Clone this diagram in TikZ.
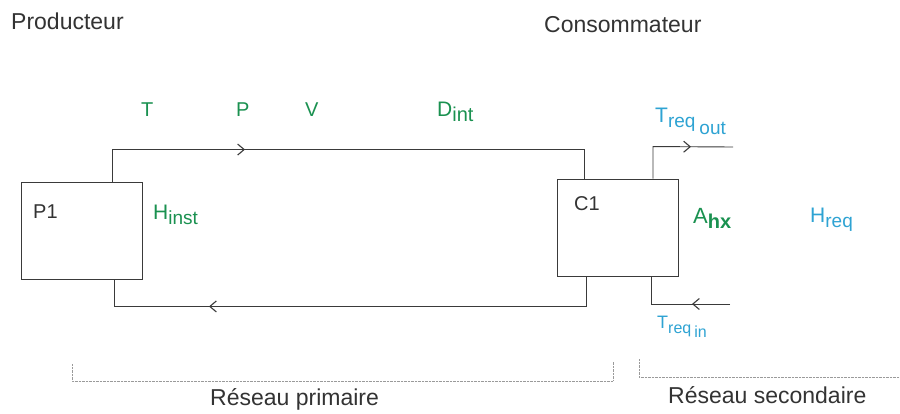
\documentclass[tikz,border=0pt]{standalone}
\usepackage{fontspec}
\setmainfont{Liberation Sans}
\usetikzlibrary{arrows.meta,decorations.markings}
\definecolor{ink}{HTML}{333333}
\definecolor{linec}{HTML}{3A3A3A}
\definecolor{grn}{HTML}{1A9150}
\definecolor{blu}{HTML}{2EA3D3}
\definecolor{dotc}{HTML}{9A9A9A}
\newcommand\fsz[1]{\fontsize{#1}{#1}\selectfont}
\begin{document}
\begin{tikzpicture}[x=1pt,y=-1pt,
 box/.style={draw=linec,line width=0.9pt,minimum width=121pt,minimum height=97pt,inner sep=0pt},
 pipe/.style={draw=linec,line width=0.9pt},
 lbl/.style={anchor=base west,inner sep=0pt,text=ink,font=\fsz{23}},
 boxlbl/.style={anchor=base west,inner sep=0pt,text=ink,font=\fsz{20}},
 glbl/.style={anchor=base west,inner sep=0pt,text=grn,font=\fsz{21}},
 blbl/.style={anchor=base west,inner sep=0pt,text=blu,font=\fsz{21}},
 bracket/.style={draw=dotc,line width=0.7pt,dash pattern=on 0.7pt off 0.7pt},
 midarrow/.style={decoration={markings,mark=at position #1 with {\arrow[linec]{Straight Barb[length=6.5pt,width=11pt,line width=1.1pt]}}},postaction={decorate}}
]
\useasboundingbox[fill=white] (0,0) rectangle (900,414);

% boxes
\node[box] (P1box) at (81.5,230.5) {};
\node[box] (C1box) at (617.5,227.5) {};
\node[boxlbl] (P1t) at (33,219) {P1};
\node[boxlbl] (C1t) at (574,211) {C1};

% secondary free ends
\coordinate (sout) at (733,147);
\coordinate (sin) at (730,304);

% primary network
\draw[pipe,midarrow=165pt] ([xshift=30.5pt]P1box.north) -- ++(0,-32) -| ([xshift=-33.5pt]C1box.north);
\draw[pipe,midarrow=407pt] ([xshift=-31.5pt]C1box.south) -- ++(0,30) -| ([xshift=32.5pt]P1box.south);

% secondary network
\draw[pipe,midarrow=70pt] ([xshift=35.5pt]C1box.north) -- ++(0,-32) -- (sout);
\draw[pipe,midarrow=38pt] (sin) -| ([xshift=33.5pt]C1box.south);

% titles
\node[lbl] (prod) at (11,30) {Producteur};
\node[lbl] (cons) at (544,33) {Consommateur};

% green variables
\node[glbl,font=\fsz{20}] (lT) at (141,117) {T};
\node[glbl,font=\fsz{20}] (lP) at (236,117) {P};
\node[glbl,font=\fsz{20}] (lV) at (305,117) {V};
\node[glbl] (lD) at (437,117) {D\raisebox{-5pt}{\fsz{20}int}};
\node[glbl] (lH) at (153,220) {H\raisebox{-5pt}{\fsz{19}inst}};
\node[glbl,font=\fsz{22}] (lA) at (693,224) {A\raisebox{-5pt}{\fsz{20}\bfseries hx}};

% blue variables
\node[blbl] (lHr) at (810,223) {H\raisebox{-5pt}{\fsz{19}req}};
\node[blbl] (lTo) at (655,123) {T\raisebox{-5pt}{\fsz{19}req}\hspace{4pt}\raisebox{-12pt}{\fsz{19}out}};
\node[blbl,font=\fsz{18}] (lTi) at (657,328) {T\raisebox{-5pt}{\fsz{16}req}\hspace{3pt}\raisebox{-9pt}{\fsz{16}in}};

% brackets
\coordinate (b1a) at (72,364);
\coordinate (b1b) at (613,381);
\coordinate (b1c) at (613,361);
\draw[bracket] (b1a) |- (b1b) -- (b1c);
\coordinate (b2a) at (639,359);
\coordinate (b2b) at (900,377);
\draw[bracket] (b2a) |- (b2b);

\node[lbl] (rp) at (210,405) {Réseau primaire};
\node[lbl] (rs) at (668,403) {Réseau secondaire};
\end{tikzpicture}
\end{document}
